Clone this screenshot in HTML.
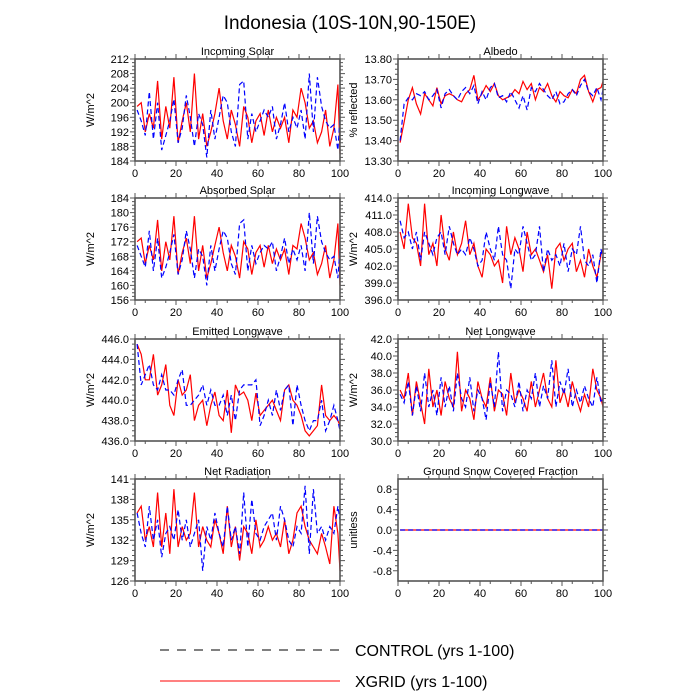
<!DOCTYPE html>
<html><head><meta charset="utf-8"><style>
body{margin:0;background:#fff}
svg{display:block;font-family:"Liberation Sans",sans-serif}
</style></head><body>
<svg id="c" width="700" height="700" viewBox="0 0 700 700">
<text x="350" y="29" text-anchor="middle" font-size="19">Indonesia (10S-10N,90-150E)</text>
<g>
<line x1="160" y1="650" x2="340" y2="650" stroke="#000" stroke-width="1" stroke-dasharray="9,8"/>
<text x="355" y="656" font-size="16">CONTROL (yrs 1-100)</text>
<line x1="160" y1="681" x2="340" y2="681" stroke="#f00" stroke-width="1"/>
<text x="355" y="687" font-size="16">XGRID (yrs 1-100)</text>
</g>
</svg>
<script>
const years=[1,3,5,7,9,11,13,15,17,19,21,23,25,27,29,31,33,35,37,39,41,43,45,47,49,51,53,55,57,59,61,63,65,67,69,71,73,75,77,79,81,83,85,87,89,91,93,95,97,99,100];
const isCtrl=[198,195,191,203,190,200,187,191,195,201,189,193,202,196,188,197,194,185,198,190,196,202,200,192,188,205,206,190,197,192,195,198,196,199,190,194,200,192,196,193,198,190,208,192,207,199,195,193,194,187,196];
const isXg=[199,200,192,197,193,206,190,199,193,207,189,195,200,192,208,190,197,188,192,197,204,195,190,198,194,188,199,196,189,195,197,191,198,192,196,193,196,189,198,196,204,200,193,195,189,192,198,188,193,205,186];
const alCtrl=[13.40,13.58,13.61,13.60,13.63,13.62,13.64,13.60,13.62,13.65,13.56,13.63,13.65,13.62,13.60,13.64,13.66,13.63,13.67,13.58,13.64,13.60,13.66,13.68,13.61,13.62,13.59,13.64,13.60,13.56,13.62,13.55,13.66,13.64,13.68,13.65,13.62,13.60,13.64,13.58,13.59,13.63,13.65,13.62,13.67,13.70,13.64,13.62,13.66,13.60,13.65];
const alXg=[13.39,13.49,13.60,13.66,13.58,13.53,13.63,13.60,13.57,13.66,13.58,13.62,13.63,13.62,13.60,13.59,13.63,13.65,13.72,13.60,13.63,13.67,13.64,13.68,13.62,13.60,13.61,13.62,13.65,13.63,13.69,13.65,13.68,13.60,13.66,13.64,13.68,13.62,13.59,13.64,13.62,13.61,13.65,13.63,13.70,13.72,13.64,13.59,13.65,13.66,13.69];
const asCtrl=[171,168,165,175,164,173,162,165,169,174,163,167,175,170,162,170,168,160,171,164,170,175,173,166,163,177,178,164,171,166,169,171,170,172,164,168,173,166,170,167,171,164,180,166,179,172,169,167,168,162,170];
const asXg=[172,173,166,171,167,178,164,172,167,179,163,169,173,166,179,164,171,162,166,171,176,169,164,171,168,162,172,170,163,169,171,165,171,166,170,167,170,163,171,170,177,173,167,169,163,166,171,162,167,177,160];
const ilCtrl=[410,407,408,405,408,403,408,406,404,407,408,404,409,406,404,405,404,407,405,402,403,408,405,403,409,404,403,398,405,404,409,406,403,404,409,401,405,403,404,402,406,401,405,404,409,403,402,404,399,405,403];
const ilXg=[408,405,413,407,406,402,413,404,406,402,411,405,403,408,404,406,410,404,406,402,400,405,404,402,403,399,409,404,407,405,401,408,404,405,403,401,404,398,405,406,403,405,406,401,403,400,405,402,400,404,405];
const elCtrl=[445.5,441.5,442.5,443.5,441.5,441,442.5,441,441,440.5,442,443,439.5,439.5,440,440.5,441.5,439.5,441,439.5,439.5,440.5,438.5,440.5,438,441,441.5,441.5,441.5,442,437.5,438.5,440,438.5,441,439,441,441.5,437.5,441.5,439.5,438,437,438,438,440,437,438,439.5,438,437];
const elXg=[445.5,444.5,442,442,444.5,440.5,441.5,443.5,439.5,438.5,442,440.5,441,442.5,438,439.5,440,437.5,439.5,440.8,438.5,438,441,436.8,441.5,440.5,440.8,440,438,440.7,438.5,439,439.5,440,439,438,441,441.5,440,439.5,438.5,437,436.5,437,437.5,441.5,438.5,438,438.5,438,437.5];
const nlCtrl=[35.5,34.5,37,33,36.5,33.5,38,34,36,33,37.5,34,36.5,33.5,38,35,34,37.5,33.5,36,35,32.5,37,34,40.5,33.5,36,35.5,34,37,33.5,36,35,38,34,36.5,35,39.5,34,37,35.5,38.5,34,36,34.5,36.5,35,34,37.5,34.5,35];
const nlXg=[36,35,38,33,37,34.5,32,38.5,34,36,33,37,35,34,40.5,33.5,36,35,32.5,37,35,34,37.5,33.5,36,35.5,33,38,34.5,36,35,33.5,37,34,36,38,35,34,39.5,34.5,36,34,37,35,33.5,35.5,34,38.5,36,35,34];
const nrCtrl=[136,133,131,137,132,135,129.5,133,134,132,136.5,132,135,131,133,135,127.5,134,132,136,133,131,137,132,134,130,139,131,138,133,132,134,135,136,132,137,135,132,131,134,133,140,130,139.5,133,134,132,134,133,137,135];
const nrXg=[136,137,132,134,131,139,131,136,130,139.5,131,134,132,133,139,131,134,132,131,135,133,130,137,131,134,129,134,133,130,135,131,132,134,132,133,131,135,130,132,136,137,134,132,131,130,133,131,128.5,137,133,127.5];
const snCtrl=[0,0,0,0,0,0,0,0,0,0,0,0,0,0,0,0,0,0,0,0,0,0,0,0,0,0,0,0,0,0,0,0,0,0,0,0,0,0,0,0,0,0,0,0,0,0,0,0,0,0,0];
const snXg=[0,0,0,0,0,0,0,0,0,0,0,0,0,0,0,0,0,0,0,0,0,0,0,0,0,0,0,0,0,0,0,0,0,0,0,0,0,0,0,0,0,0,0,0,0,0,0,0,0,0,0];
const xTicks=[0,20,40,60,80,100];
const isTicks=[184,188,192,196,200,204,208,212];
const alTicks=[13.30,13.40,13.50,13.60,13.70,13.80];
const asTicks=[156,160,164,168,172,176,180,184];
const ilTicks=[396,399,402,405,408,411,414];
const elTicks=[436,438,440,442,444,446];
const nlTicks=[30,32,34,36,38,40,42];
const nrTicks=[126,129,132,135,138,141];
const snTicks=[-0.8,-0.4,0,0.4,0.8];

const NS="http://www.w3.org/2000/svg";
const svg=document.getElementById('c');
function mk(tag,attrs,parent){const e=document.createElementNS(NS,tag);for(const k in attrs)e.setAttribute(k,attrs[k]);parent.appendChild(e);return e;}
const panels=[
 {name:'incoming-solar',title:'Incoming Solar',yl:'W/m^2',c:0,r:0,ymin:184,ymax:212,ticks:isTicks,dec:0,ctrl:isCtrl,xg:isXg},
 {name:'albedo',title:'Albedo',yl:'% reflected',c:1,r:0,ymin:13.3,ymax:13.8,ticks:alTicks,dec:2,ctrl:alCtrl,xg:alXg},
 {name:'absorbed-solar',title:'Absorbed Solar',yl:'W/m^2',c:0,r:1,ymin:156,ymax:184,ticks:asTicks,dec:0,ctrl:asCtrl,xg:asXg},
 {name:'incoming-longwave',title:'Incoming Longwave',yl:'W/m^2',c:1,r:1,ymin:396,ymax:414,ticks:ilTicks,dec:1,ctrl:ilCtrl,xg:ilXg},
 {name:'emitted-longwave',title:'Emitted Longwave',yl:'W/m^2',c:0,r:2,ymin:436,ymax:446,ticks:elTicks,dec:1,ctrl:elCtrl,xg:elXg},
 {name:'net-longwave',title:'Net Longwave',yl:'W/m^2',c:1,r:2,ymin:30,ymax:42,ticks:nlTicks,dec:1,ctrl:nlCtrl,xg:nlXg},
 {name:'net-radiation',title:'Net Radiation',yl:'W/m^2',c:0,r:3,ymin:126,ymax:141,ticks:nrTicks,dec:0,ctrl:nrCtrl,xg:nrXg},
 {name:'ground-snow',title:'Ground Snow Covered Fraction',yl:'unitless',c:1,r:3,ymin:-1,ymax:1,ticks:snTicks,dec:1,ctrl:snCtrl,xg:snXg}
];
const colX=[135,398],rowY=[59,198,339,479],W=205,H=102;
panels.forEach(p=>{
 const x0=colX[p.c],y0=rowY[p.r];
 const g=mk('g',{},svg);
 
 
 const X=v=>x0+v/100*W;
 const Y=v=>y0+H-(v-p.ymin)/(p.ymax-p.ymin)*H;
 const t=mk('text',{x:x0+W/2,y:y0-4,'text-anchor':'middle','font-size':11},g);t.textContent=p.title;
 
 
 const yl=mk('text',{x:0,y:0,'text-anchor':'middle','font-size':11,transform:`translate(${x0-41},${y0+H/2}) rotate(-90)`},g);yl.textContent=p.yl;
 
 
 // ticks
 let d='';
 xTicks.forEach(v=>{const x=X(v);d+=`M${x},${y0+H}v5M${x},${y0}v-5`;
  const l=mk('text',{x:x,y:y0+H+16,'text-anchor':'middle','font-size':11},g);l.textContent=v;
  
  });
 for(let v=5;v<100;v+=10){const x=X(v);d+=`M${x},${y0+H}v3M${x},${y0}v-3`;}
 const step=p.ticks[1]-p.ticks[0];
 p.ticks.forEach((v,i)=>{const y=Y(v);d+=`M${x0},${y}h-5M${x0+W},${y}h5`;
  const l=mk('text',{x:x0-6,y:y+4,'text-anchor':'end','font-size':11},g);l.textContent=v.toFixed(p.dec);
  
  
  if(i<p.ticks.length-1)for(let k=1;k<4;k++){const yy=Y(v+step*k/4);d+=`M${x0},${yy}h-3M${x0+W},${yy}h3`;}
 });
 const tk=mk('path',{d:d,stroke:'#555','stroke-width':1,fill:'none'},g);
 
 
 const mkLine=(arr,col,dash,nm)=>{
  const pts=arr.map((v,i)=>X(years[i]).toFixed(1)+','+Y(v).toFixed(1)).join(' ');
  const pl=mk('polyline',{points:pts,fill:'none',stroke:col,'stroke-width':1.2},g);
  if(dash)pl.setAttribute('stroke-dasharray',dash);
  
  
 };
 mkLine(p.xg,'#f00',null,'xgrid-line');
 mkLine(p.ctrl,'#00f','5,3','control-line');
 const b=mk('rect',{x:x0,y:y0,width:W,height:H,fill:'none',stroke:'#555','stroke-width':1.6},g);
 
 
});
</script>
</body></html>
